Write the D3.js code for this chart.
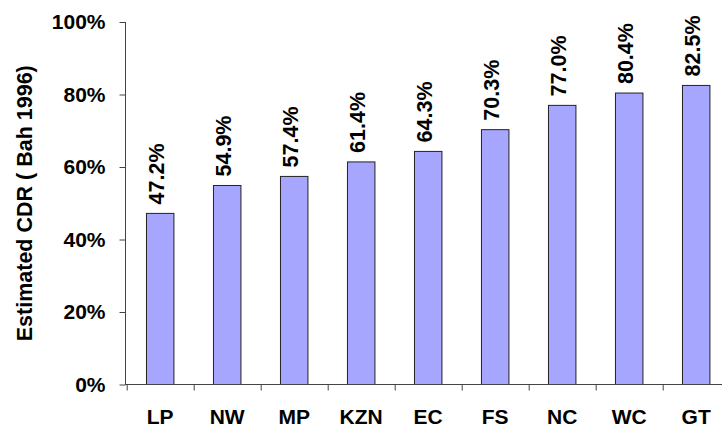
<!DOCTYPE html>
<html>
<head>
<meta charset="utf-8">
<script src="https://cdn.jsdelivr.net/npm/d3@7"></script>
<style>
  body { margin: 0; background: #fff; }
  svg text { font-family: "Liberation Sans", Arial, sans-serif; font-weight: bold; fill: #000; }
</style>
</head>
<body>
<script>
// data
const provinces = ["LP", "NW", "MP", "KZN", "EC", "FS", "NC", "WC", "GT"];
const cdrValues = [47.2, 54.9, 57.4, 61.4, 64.3, 70.3, 77.0, 80.4, 82.5];
const yTicks = [0, 20, 40, 60, 80, 100];
const yTitle = "Estimated CDR ( Bah 1996)";

const w = 722;
const h = 428;
const fontSize = 21;

let svg = d3.select("body")
  .append("svg")
  .attr("width", w)
  .attr("height", h);

// plot area
const x0 = 126.7, step = 67;
const yTop = 22, yBottom = 384.5;

let xScale = d3.scaleBand()
  .domain(provinces)
  .range([x0, x0 + step * provinces.length])
  .paddingInner(0.59)
  .paddingOuter(0.295);

let yScale = d3.scaleLinear()
  .domain([0, 100])
  .range([yBottom, yTop]);

// boundaries between categories, for the x ticks
let edgeScale = d3.scaleLinear()
  .domain([0, provinces.length])
  .range([x0, x0 + step * provinces.length]);

// bars
svg.selectAll("rect.bar")
  .data(provinces)
  .enter()
  .append("rect")
  .attr("class", "bar")
  .attr("x", d => xScale(d))
  .attr("y", (d, i) => yScale(cdrValues[i]))
  .attr("width", xScale.bandwidth())
  .attr("height", (d, i) => yScale(0) - yScale(cdrValues[i]))
  .attr("fill", "#a6a6ff")
  .attr("stroke", "#222")
  .attr("stroke-width", 1);

// value labels, rotated
svg.selectAll("text.val")
  .data(provinces)
  .enter()
  .append("text")
  .attr("class", "val")
  .attr("transform", (d, i) => "translate(" + (xScale(d) + xScale.bandwidth() / 2 - 3.5) + "," + (yScale(cdrValues[i]) - 9) + ") rotate(-90)")
  .attr("dy", "0.36em")
  .attr("font-size", 21.5)
  .text((d, i) => cdrValues[i].toFixed(1) + "%");

// y axis
let yAxis = svg.append("g")
  .attr("transform", "translate(125.5,0)")
  .call(d3.axisLeft(yScale)
    .tickValues(yTicks)
    .tickFormat(d => d + "%")
    .tickSize(6)
    .tickSizeOuter(0)
    .tickPadding(14));
yAxis.select(".domain").attr("stroke", "#444").attr("d", "M0," + yTop + "V" + yBottom);
yAxis.selectAll(".tick line").attr("stroke", "#444");
yAxis.selectAll("text")
  .attr("font-size", fontSize)
  .style("font-family", "'Liberation Sans', Arial, sans-serif")
  .style("font-weight", "bold");

// x axis: line plus ticks at category edges
let xAxis = svg.append("g")
  .attr("transform", "translate(0," + yBottom + ")")
  .call(d3.axisBottom(edgeScale)
    .tickValues(d3.range(0, provinces.length))
    .tickFormat("")
    .tickSize(6)
    .tickSizeOuter(0));
xAxis.select(".domain").attr("stroke", "#444").attr("d", "M125," + 0 + "H" + w);
xAxis.selectAll(".tick line").attr("stroke", "#444");

// category labels
svg.selectAll("text.cat")
  .data(provinces)
  .enter()
  .append("text")
  .attr("class", "cat")
  .attr("x", d => xScale(d) + xScale.bandwidth() / 2)
  .attr("y", 424)
  .attr("text-anchor", "middle")
  .attr("font-size", fontSize)
  .text(d => d);

// y title
svg.append("text")
  .attr("transform", "translate(24," + ((yTop + yBottom) / 2) + ") rotate(-90)")
  .attr("text-anchor", "middle")
  .attr("dy", "0.36em")
  .attr("font-size", 21.5)
  .text(yTitle);
</script>
</body>
</html>
